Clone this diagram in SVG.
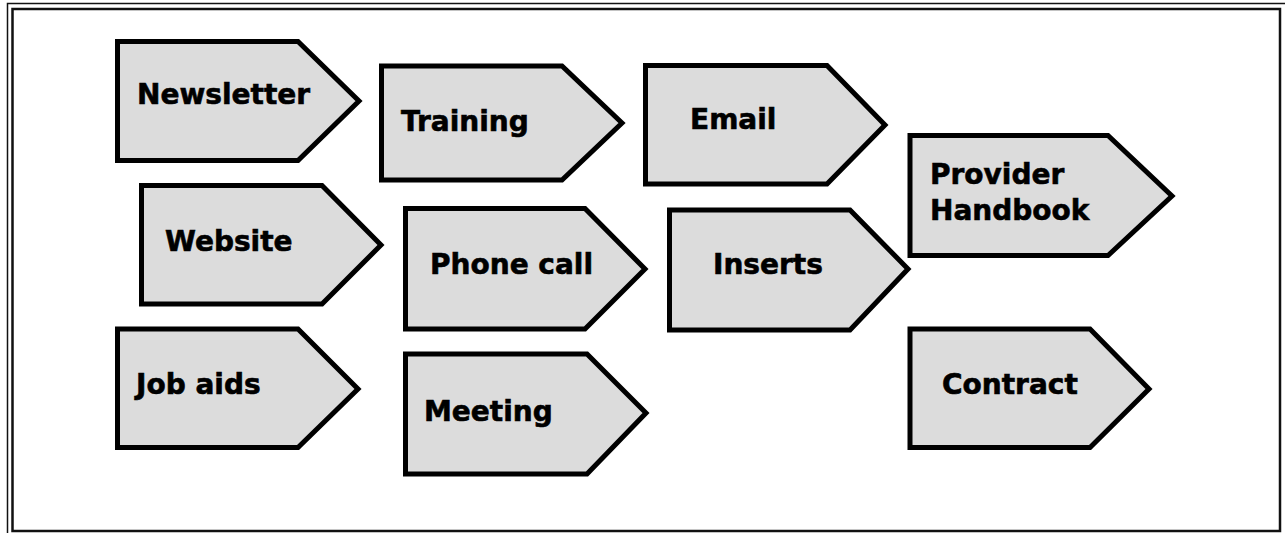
<svg xmlns="http://www.w3.org/2000/svg" width="1285" height="533" viewBox="0 0 1285 533">
<style>
.shape{fill:#dcdcdc;stroke:#000;stroke-width:5;stroke-linejoin:miter}
.lbl{font-family:"DejaVu Sans","Verdana",sans-serif;font-weight:bold;font-size:28px;fill:#000;stroke:#000;stroke-width:0.6}
.frame{fill:none;stroke:#111}
</style>
<rect width="1285" height="533" fill="#fff"/>
<g id="frame">
<rect class="frame" x="7.5" y="3.5" width="1290" height="540" stroke-width="1.5"/>
<rect class="frame" x="12.5" y="9" width="1267.5" height="522" stroke-width="2.5"/>
</g>
<g id="connectors"></g>
<g id="newsletter"><polygon class="shape" points="117.5,41.5 298,41.5 359,101 298,160.5 117.5,160.5"/><text class="lbl" x="137" y="104">Newsletter</text></g>
<g id="training"><polygon class="shape" points="381.5,66 562,66 622,123 562,180 381.5,180"/><text class="lbl" x="401" y="131">Training</text></g>
<g id="email"><polygon class="shape" points="645.5,65.5 827,65.5 885,125 827,184 645.5,184"/><text class="lbl" x="690" y="129">Email</text></g>
<g id="provider-handbook"><polygon class="shape" points="910,135.5 1108,135.5 1172,196 1108,255.5 910,255.5"/><text class="lbl" x="930" y="184">Provider</text><text class="lbl" x="930" y="220">Handbook</text></g>
<g id="website"><polygon class="shape" points="141.5,185.5 322,185.5 381,245 322,304 141.5,304"/><text class="lbl" x="165" y="251">Website</text></g>
<g id="phone-call"><polygon class="shape" points="405.5,208.5 585,208.5 645,269 585,329 405.5,329"/><text class="lbl" x="430" y="274">Phone call</text></g>
<g id="inserts"><polygon class="shape" points="669.5,210 850,210 908,269 850,330 669.5,330"/><text class="lbl" x="713" y="274">Inserts</text></g>
<g id="job-aids"><polygon class="shape" points="117.5,329 298,329 358,389 298,447.5 117.5,447.5"/><text class="lbl" x="136" y="394">Job aids</text></g>
<g id="meeting"><polygon class="shape" points="405.5,354 587,354 646,413 587,474 405.5,474"/><text class="lbl" x="424" y="421">Meeting</text></g>
<g id="contract"><polygon class="shape" points="910,329 1090,329 1149,389 1090,447.5 910,447.5"/><text class="lbl" x="942" y="394">Contract</text></g>
</svg>
